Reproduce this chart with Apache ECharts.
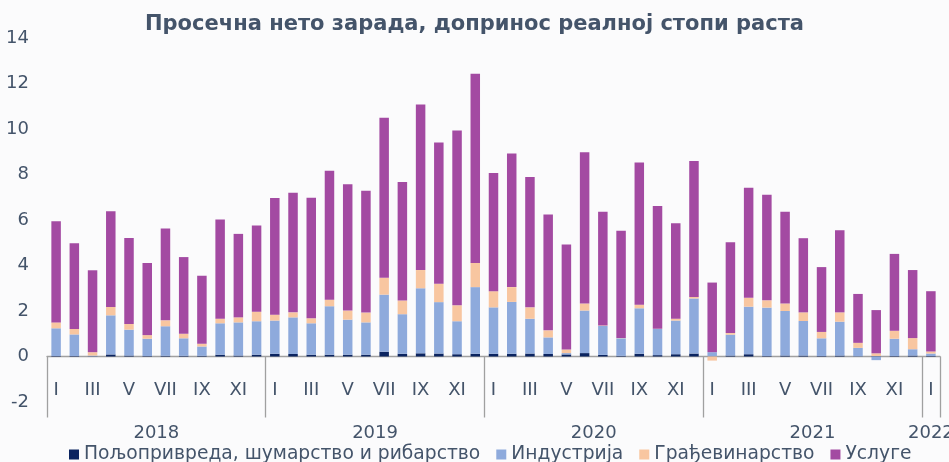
<!DOCTYPE html>
<html><head><meta charset="utf-8">
<script src="https://cdn.jsdelivr.net/npm/echarts@6/dist/echarts.min.js"></script>
<style>html,body{margin:0;padding:0;background:#fbfbfc}#c{width:949px;height:462px}</style>
</head><body><div id="c"></div>
<script>
const romans = ['I','II','III','IV','V','VI','VII','VIII','IX','X','XI','XII'];
const years = ['2018','2019','2020','2021','2022'];
const categories = [];
years.forEach(function(y, i){ const n = (i < 4) ? 12 : 1; for (let m = 0; m < n; m++) categories.push(romans[m]); });
const seriesNames = ['Пољопривреда, шумарство и рибарство','Индустрија','Грађевинарство','Услуге'];
const agriculture = [
 0.02,0.02,0.01,0.09,0.04,0.02,0.03,0.03,0.03,0.08,0.04,0.08,
 0.12,0.11,0.08,0.08,0.08,0.08,0.21,0.12,0.14,0.13,0.10,0.12,
 0.12,0.12,0.13,0.11,0.09,0.15,0.07,0.03,0.12,0.06,0.10,0.13,
 0.01,0.04,0.10,0.02,0.04,0.04,0.02,0.04,0.01,0.02,0.02,0.04,
 0.02];
const industry = [
 1.22,0.95,0.03,1.72,1.14,0.76,1.30,0.77,0.41,1.38,1.46,1.47,
 1.46,1.61,1.38,2.13,1.54,1.42,2.51,1.74,2.86,2.26,1.45,2.93,
 2.04,2.28,1.53,0.73,0.06,1.87,1.27,0.77,2.00,1.15,1.48,2.42,
 0.18,0.92,2.09,2.13,1.96,1.52,0.78,1.49,0.37,-0.16,0.76,0.28,
 0.11];
const construction = [
 0.26,0.24,0.15,0.37,0.25,0.16,0.26,0.20,0.12,0.20,0.22,0.42,
 0.26,0.22,0.22,0.29,0.40,0.43,0.74,0.60,0.80,0.81,0.70,1.06,
 0.71,0.65,0.50,0.31,0.16,0.31,0.02,0.01,0.16,0.01,0.08,0.07,
 -0.18,0.07,0.39,0.32,0.33,0.38,0.28,0.41,0.22,0.12,0.35,0.49,
 0.09];
const services = [
 4.45,3.77,3.60,4.20,3.78,3.17,4.04,3.37,2.99,4.36,3.67,3.79,
 5.13,5.26,5.30,5.66,5.55,5.36,7.03,5.21,7.28,6.21,7.68,8.32,
 5.20,5.87,5.73,5.09,4.61,6.65,5.00,4.72,6.25,5.39,4.20,5.97,
 3.06,3.99,4.84,4.64,4.03,3.26,2.85,3.61,2.15,1.90,3.38,2.99,
 2.65];
const yTicks = [-2,0,2,4,6,8,10,12,14];
const yearBounds = [0,12,24,36,48,49];
const yearCenters = [6,18,30,42,48.5];

const FONT = 'DejaVu Sans';
const TXT = '#44546a';
const colors = ['#0b2460','#8eaadc','#f8c6a0','#a34aa2'];
const values = [agriculture, industry, construction, services];

const chart = echarts.init(document.getElementById('c'), null, {renderer:'canvas'});
chart.setOption({
  backgroundColor: '#fbfbfc',
  animation: false,
  textStyle: {fontFamily: FONT, color: TXT},
  title: {
    text: 'Просечна нето зарада, допринос реалној стопи раста',
    left: 'center', top: 9,
    textStyle: {fontFamily: FONT, fontWeight: 'bold', fontSize: 21, color: TXT}
  },
  legend: {
    top: 440, left: 64,
    itemWidth: 10, itemHeight: 10, itemGap: 16,
    icon: 'rect',
    textStyle: {fontFamily: FONT, fontSize: 18.7, color: TXT},
    data: seriesNames
  },
  grid: {left: 47, right: 9, top: 38, bottom: 60, containLabel: false, outerBoundsMode: 'none'},
  xAxis: [{
    type: 'category', data: categories,
    axisLine: {onZero: false, lineStyle: {color: '#a0a0a0', width: 1.3}},
    offset: -45.5,
    axisTick: {show: false},
    axisLabel: {interval: 1, fontSize: 18, color: TXT, margin: 25, fontFamily: FONT},
    splitLine: {show: false}
  }, {
    type: 'value', min: 0, max: 49,
    position: 'bottom',
    axisLine: {show: false, onZero: false},
    offset: -45.5,
    axisTick: {show: true, customValues: yearBounds, length: 61, lineStyle: {color: '#a0a0a0', width: 1.3}},
    axisLabel: {customValues: yearCenters, fontSize: 18, color: TXT, margin: 68, fontFamily: FONT,
      showMinLabel: true, showMaxLabel: true, hideOverlap: false,
      formatter: function(v){ const i = yearCenters.indexOf(v); return i >= 0 ? years[i] : ''; }},
    splitLine: {show: false}
  }],
  yAxis: {
    type: 'value', min: yTicks[0], max: yTicks[yTicks.length-1], interval: 2,
    axisLine: {show: false}, axisTick: {show: false}, splitLine: {show: false},
    axisLabel: {fontSize: 18, color: TXT, margin: 18, fontFamily: FONT}
  },
  series: values.map(function(v, i){
    return {
      name: seriesNames[i], type: 'bar', stack: 'total', data: v,
      xAxisIndex: 0, barWidth: 9.5,
      itemStyle: {color: colors[i]}
    };
  })
});
</script></body></html>
